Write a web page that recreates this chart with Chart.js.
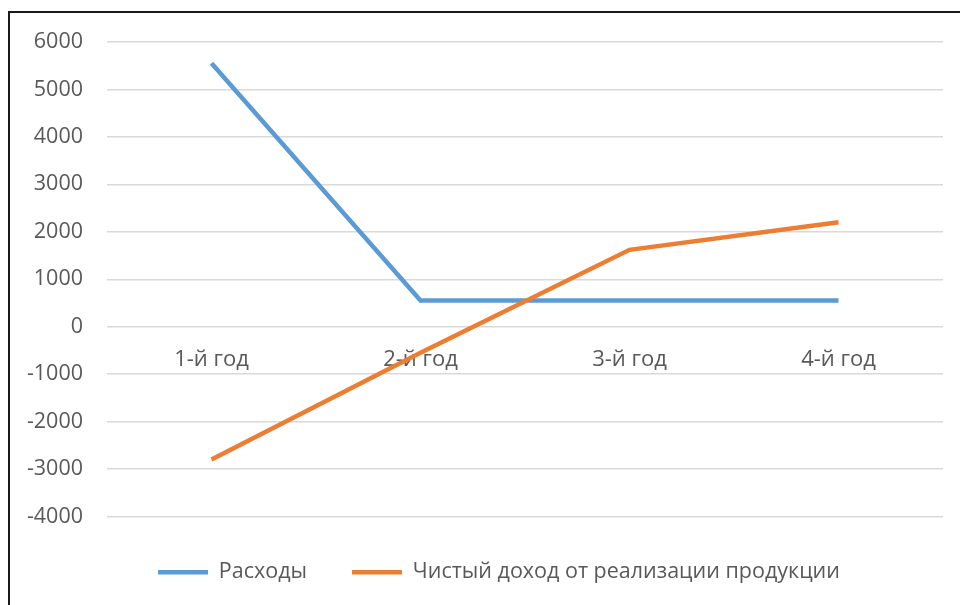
<!DOCTYPE html>
<html>
<head>
<meta charset="utf-8">
<style>
  html, body { margin: 0; padding: 0; background: #ffffff; }
  #wrap { width: 960px; height: 605px; }
</style>
<script src="https://cdn.jsdelivr.net/npm/chart.js@4/dist/chart.umd.min.js"></script>
</head>
<body>
<div id="wrap"><canvas id="chart" width="960" height="605"></canvas></div>
<script>
// Categories (years) and the two series
const years = ['1-й год', '2-й год', '3-й год', '4-й год'];
const expenses = [5550, 550, 550, 550];
const netIncome = [-2800, -550, 1620, 2200];
const seriesNames = ['Расходы', 'Чистый доход от реализации продукции'];

const FONT = 'Open Sans';
const TEXT = '#595959';

// Frame line along the top and left of the figure
const framePlugin = {
  id: 'frame',
  beforeDraw(chart) {
    const ctx = chart.ctx;
    ctx.save();
    ctx.fillStyle = '#ffffff';
    ctx.fillRect(0, 0, chart.width, chart.height);
    ctx.fillStyle = '#1a1a1a';
    ctx.fillRect(8, 11, 2, chart.height);
    ctx.fillRect(8, 11, chart.width, 2);
    ctx.restore();
  }
};

// Centre the legend row a little to the right of the canvas middle
const legendShift = {
  id: 'legendShift',
  afterLayout(chart) {
    if (chart.legend) chart.legend.left += 55;
  }
};

new Chart(document.getElementById('chart'), {
  type: 'line',
  data: {
    labels: years,
    datasets: [
      {
        label: seriesNames[0],
        data: expenses,
        borderColor: '#5B9BD5',
        backgroundColor: '#5B9BD5',
        borderWidth: 4.5,
        pointRadius: 0,
        pointHoverRadius: 0,
        tension: 0,
        order: 1
      },
      {
        label: seriesNames[1],
        data: netIncome,
        borderColor: '#ED7D31',
        backgroundColor: '#ED7D31',
        borderWidth: 4.5,
        pointRadius: 0,
        pointHoverRadius: 0,
        tension: 0,
        order: 0
      }
    ]
  },
  options: {
    responsive: false,
    animation: false,
    devicePixelRatio: 1,
    layout: { padding: { left: 0, right: 17, top: 42, bottom: 12 } },
    scales: {
      x: {
        type: 'category',
        offset: true,
        position: { y: 0 },
        grid: { display: false, drawTicks: false },
        border: { display: false },
        ticks: {
          color: TEXT,
          padding: 20,
          maxRotation: 0,
          font: { family: FONT, size: 22 }
        }
      },
      y: {
        min: -4000,
        max: 6000,
        afterFit(scale) { scale.width = 107; },
        grid: { color: '#d9d9d9', lineWidth: 1.5, drawTicks: false },
        border: { display: false },
        ticks: {
          stepSize: 1000,
          color: TEXT,
          padding: 24,
          font: { family: FONT, size: 21.5 },
          callback: (value) => String(value)
        }
      }
    },
    plugins: {
      tooltip: { enabled: false },
      legend: {
        position: 'bottom',
        labels: {
          color: TEXT,
          font: { family: FONT, size: 21.5 },
          usePointStyle: true,
          pointStyle: 'line',
          pointStyleWidth: 50,
          padding: 45,
          sort: (a, b) => a.datasetIndex - b.datasetIndex
        }
      }
    }
  },
  plugins: [framePlugin, legendShift]
});
</script>
</body>
</html>
